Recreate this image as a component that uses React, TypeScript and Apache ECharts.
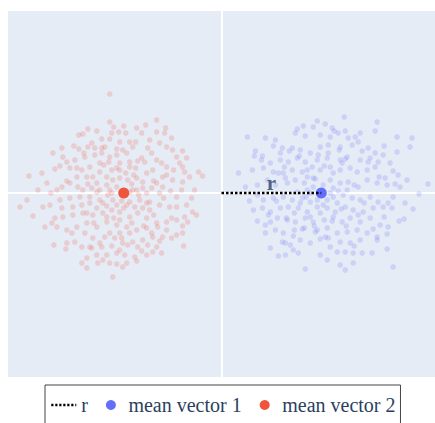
import React, { useEffect, useRef } from "react";
import * as echarts from "echarts";

// Samples drawn around mean vector 2 (red cloud)
const cloud2: [number, number][] = [
  [-1.12, 0.99], [-0.65, 0.73], [-1.12, 0.71], [-0.76, 0.68], [-0.98, 0.67], [-1.08, 0.66],
  [-1.43, 0.58], [-1.39, 0.59], [-1.34, 0.64], [-1.25, 0.62], [-1.03, 0.61], [-0.96, 0.6],
  [-0.65, 0.61], [-0.56, 0.65], [-0.57, 0.6], [-0.8, 0.6], [-1.2, 0.54], [-1.12, 0.54],
  [-1.02, 0.51], [-0.92, 0.51], [-0.86, 0.51], [-0.72, 0.53], [-0.62, 0.5], [-1.48, 0.47],
  [-1.43, 0.44], [-1.34, 0.46], [-1.27, 0.45], [-1.17, 0.46], [-1.05, 0.44], [-0.99, 0.43],
  [-0.89, 0.46], [-0.74, 0.45], [-0.55, 0.46], [-0.49, 0.43], [-0.45, 0.36], [-0.39, 0.42],
  [-1.69, 0.4], [-1.59, 0.36], [-1.55, 0.31], [-1.47, 0.33], [-1.37, 0.36], [-1.27, 0.38],
  [-1.2, 0.4], [-1.13, 0.31], [-1.02, 0.3], [-0.92, 0.31], [-0.84, 0.32], [-0.77, 0.31],
  [-0.65, 0.33], [-0.55, 0.26], [-0.48, 0.23], [-0.39, 0.26], [-0.37, 0.21], [-0.23, 0.21],
  [-0.19, 0.17], [-1.8, 0.2], [-1.93, 0.17], [-1.67, 0.24], [-1.62, 0.27], [-1.52, 0.25],
  [-1.4, 0.23], [-1.32, 0.26], [-1.22, 0.21], [-1.1, 0.23], [-0.96, 0.2], [-0.86, 0.25],
  [-0.75, 0.2], [-0.69, 0.23], [-0.59, 0.16], [-0.49, 0.13], [-0.39, 0.11], [-0.32, 0.16],
  [-0.27, 0.03], [-0.4, 0.03], [-0.51, 0.02], [-0.45, -0.04], [-0.62, 0.0], [-0.7, 0.05],
  [-0.79, 0.05], [-0.89, 0.03], [-1.05, 0.06], [-1.15, 0.08], [-1.25, 0.1], [-1.34, 0.09],
  [-1.44, 0.06], [-1.52, 0.1], [-1.6, 0.06], [-1.65, 0.03], [-1.71, 0.0], [-1.84, 0.03],
  [-1.95, -0.07], [-2.02, -0.14], [-1.89, -0.23], [-1.79, -0.14], [-1.72, -0.12], [-1.62, -0.07],
  [-1.52, -0.05], [-1.42, -0.04], [-1.32, -0.04], [-1.22, -0.07], [-1.14, -0.02], [-1.05, -0.12],
  [-0.92, -0.09], [-0.82, -0.07], [-0.72, -0.09], [-0.62, -0.12], [-0.52, -0.14], [-0.45, -0.14],
  [-0.35, -0.12], [-0.29, -0.19], [-0.25, -0.22], [-0.37, -0.24], [-0.34, -0.29], [-0.45, -0.27],
  [-0.55, -0.29], [-0.65, -0.3], [-0.75, -0.25], [-0.84, -0.2], [-0.92, -0.24], [-1.02, -0.19],
  [-1.1, -0.17], [-1.19, -0.2], [-1.29, -0.22], [-1.39, -0.2], [-1.49, -0.22], [-1.59, -0.24],
  [-1.67, -0.25], [-1.77, -0.34], [-1.65, -0.34], [-1.55, -0.37], [-1.45, -0.34], [-1.35, -0.3],
  [-1.25, -0.34], [-1.15, -0.29], [-1.05, -0.32], [-0.95, -0.34], [-0.85, -0.37], [-0.75, -0.35],
  [-0.64, -0.34], [-0.55, -0.37], [-0.45, -0.42], [-0.39, -0.33], [-0.39, -0.4], [-0.38, -0.53],
  [-0.5, -0.45], [-0.59, -0.44], [-0.69, -0.44], [-0.79, -0.47], [-0.89, -0.49], [-0.99, -0.5],
  [-1.07, -0.45], [-1.17, -0.44], [-1.29, -0.45], [-1.37, -0.4], [-1.47, -0.49], [-1.55, -0.5],
  [-1.68, -0.52], [-1.56, -0.56], [-1.4, -0.54], [-1.32, -0.54], [-1.2, -0.54], [-1.1, -0.53],
  [-1.02, -0.57], [-0.94, -0.52], [-0.84, -0.54], [-0.74, -0.52], [-0.65, -0.54], [-0.69, -0.59],
  [-0.75, -0.62], [-0.87, -0.64], [-0.97, -0.62], [-1.05, -0.6], [-1.15, -0.62], [-1.25, -0.62],
  [-1.35, -0.65], [-1.4, -0.7], [-1.24, -0.7], [-1.12, -0.7], [-1.05, -0.71], [-0.95, -0.7],
  [-0.85, -0.68], [-1.35, -0.75], [-1.09, -0.84], [-0.99, -0.74], [-1.19, -0.67],
  [-1.15, 0.16], [-1.09, 0.13], [-1.02, 0.15], [-0.94, 0.13], [-0.85, 0.15], [-0.79, 0.11],
  [-1.22, 0.03], [-1.12, 0.03], [-0.85, 0.03], [-0.75, 0.0], [-1.19, -0.1], [-1.09, -0.07],
  [-0.95, -0.12], [-0.87, -0.14], [-0.79, -0.15], [-1.25, -0.15], [-1.02, -0.27], [-1.15, -0.24],
  [-1.25, 0.01], [-0.92, 0.01], [-0.72, -0.17], [-1.02, 0.23], [-0.92, 0.26], [-1.12, 0.36],
  [-1.35, 0.16], [-1.29, 0.16], [-1.32, -0.1], [-0.65, 0.1], [-0.59, 0.06], [-1.45, 0.16],
  [-1.49, -0.14], [-1.39, 0.03], [-1.02, -0.4], [-0.92, -0.4], [-1.12, -0.4], [-1.22, -0.5],
  [-1.05, 0.25], [-0.88, 0.18], [-1.18, 0.28], [-0.8, 0.35], [-1.3, 0.05], [-0.68, 0.12],
  [-0.58, -0.05], [-1.4, -0.12], [-1.08, -0.25], [-0.9, -0.3], [-0.7, -0.4], [-1.28, -0.3],
  [-1.2, 0.45], [-0.95, 0.4], [-0.7, 0.4], [-1.45, 0.25], [-1.55, 0.12], [-1.6, -0.15],
  [-0.5, -0.25], [-0.42, 0.3], [-0.6, 0.3], [-0.83, -0.02], [-1.0, -0.08], [-1.1, 0.0],
  [-0.9, 0.09], [-1.15, -0.13], [-0.78, -0.33], [-1.0, -0.45], [-1.3, -0.55], [-0.8, -0.58],
  [-0.6, -0.6], [-1.5, -0.4], [-1.75, 0.1], [-1.6, 0.45], [-0.3, -0.05], [-0.35, 0.35],
  [-1.7, -0.3], [-1.1, 0.6], [-0.85, 0.65], [-1.3, 0.5], [-0.5, 0.55], [-0.75, -0.1],
  [-0.68, -0.22], [-1.35, -0.2], [-1.22, 0.3], [-0.55, 0.18], [-0.98, -0.15], [-1.05, 0.38],
  [-1.38, 0.4], [-0.62, -0.48],
];

// Samples drawn around mean vector 1 (blue cloud)
const cloud1: [number, number][] = [
  [1.23, 0.76], [0.96, 0.72], [1.56, 0.71], [1.04, 0.69], [0.76, 0.64], [0.92, 0.66],
  [1.11, 0.65], [1.24, 0.62], [1.54, 0.62], [0.26, 0.56], [0.44, 0.55], [0.54, 0.53],
  [0.74, 0.6], [0.84, 0.57], [0.99, 0.58], [1.09, 0.56], [1.17, 0.6], [1.34, 0.56],
  [1.39, 0.6], [1.76, 0.56], [1.91, 0.55], [0.34, 0.42], [0.59, 0.4], [0.61, 0.45],
  [0.71, 0.45], [0.79, 0.43], [0.89, 0.4], [0.99, 0.46], [1.07, 0.48], [1.19, 0.46],
  [1.31, 0.48], [1.37, 0.51], [1.47, 0.45], [1.54, 0.4], [1.62, 0.38], [1.76, 0.41],
  [1.89, 0.46], [0.41, 0.37], [0.49, 0.3], [0.59, 0.33], [0.67, 0.31], [0.76, 0.35],
  [0.84, 0.31], [0.96, 0.33], [1.06, 0.35], [1.19, 0.33], [1.26, 0.36], [1.39, 0.33],
  [1.49, 0.35], [1.57, 0.31], [1.69, 0.3], [0.17, 0.2], [0.31, 0.23], [0.42, 0.25],
  [0.52, 0.21], [0.62, 0.2], [0.71, 0.23], [0.81, 0.21], [0.91, 0.26], [0.99, 0.23],
  [1.09, 0.26], [1.19, 0.23], [1.29, 0.25], [1.36, 0.21], [1.46, 0.23], [1.54, 0.26],
  [1.64, 0.15], [1.77, 0.18], [1.86, 0.13], [2.07, 0.09], [0.24, 0.06], [0.36, 0.08],
  [0.46, 0.13], [0.54, 0.08], [0.64, 0.15], [0.74, 0.13], [0.83, 0.1], [0.92, 0.15],
  [1.09, 0.13], [1.19, 0.1], [1.27, 0.11], [1.37, 0.06], [1.46, 0.13], [1.56, 0.1],
  [1.66, 0.08], [1.74, 0.09], [1.79, 0.06], [1.98, -0.01], [0.36, -0.02], [0.42, -0.07],
  [0.52, -0.05], [0.62, -0.04], [0.71, -0.07], [0.81, -0.05], [0.89, -0.09], [1.12, -0.04],
  [1.22, -0.02], [1.31, -0.05], [1.39, -0.07], [1.49, -0.04], [1.57, -0.09], [1.67, -0.1],
  [1.72, -0.04], [1.84, -0.1], [1.92, -0.16], [0.32, -0.17], [0.41, -0.15], [0.49, -0.19],
  [0.59, -0.15], [0.67, -0.14], [0.77, -0.15], [0.86, -0.19], [0.96, -0.14], [1.06, -0.15],
  [1.14, -0.19], [1.24, -0.14], [1.32, -0.17], [1.42, -0.19], [1.52, -0.15], [1.62, -0.14],
  [1.71, -0.15], [1.83, -0.26], [0.36, -0.28], [0.44, -0.32], [0.49, -0.29], [0.56, -0.25],
  [0.66, -0.27], [0.74, -0.29], [0.84, -0.25], [0.92, -0.29], [1.03, -0.27], [1.12, -0.24],
  [1.21, -0.29], [1.29, -0.25], [1.39, -0.29], [1.49, -0.25], [1.59, -0.32], [1.67, -0.34],
  [0.44, -0.4], [0.54, -0.37], [0.62, -0.4], [0.73, -0.37], [0.83, -0.35], [0.94, -0.39],
  [1.06, -0.35], [1.16, -0.4], [1.26, -0.39], [1.36, -0.37], [1.46, -0.4], [1.56, -0.44],
  [1.66, -0.41], [0.49, -0.55], [0.61, -0.49], [0.69, -0.52], [0.79, -0.47], [0.89, -0.5],
  [0.99, -0.46], [1.07, -0.45], [1.19, -0.49], [1.29, -0.5], [1.39, -0.47], [1.56, -0.47],
  [0.64, -0.62], [0.72, -0.57], [0.99, -0.62], [1.09, -0.54], [1.16, -0.59], [1.24, -0.59],
  [1.32, -0.6], [1.41, -0.6], [1.51, -0.6], [1.66, -0.56], [0.84, -0.76], [1.06, -0.67],
  [1.19, -0.72], [1.24, -0.77], [1.32, -0.7], [1.72, -0.74],
  [0.92, 0.06], [1.02, 0.08], [1.12, 0.05], [0.86, 0.03], [0.96, -0.07], [1.06, -0.07],
  [1.16, -0.1], [0.79, -0.1], [0.89, 0.0], [1.09, 0.0], [0.86, 0.23], [1.12, 0.2],
  [0.76, 0.01], [1.26, 0.03], [0.99, -0.2], [0.89, -0.24],
  [1.03, 0.27], [0.86, 0.16], [1.21, 0.3], [0.78, 0.37], [1.33, 0.08], [0.66, 0.1],
  [0.55, -0.08], [1.43, -0.1], [1.11, -0.28], [0.93, -0.33], [0.72, -0.43], [1.25, -0.33],
  [1.18, 0.43], [0.97, 0.38], [0.68, 0.42], [1.47, 0.31], [1.58, 0.16], [1.63, -0.24],
  [0.47, -0.22], [0.4, 0.33], [0.63, 0.26], [0.85, -0.04], [1.02, -0.12], [1.17, 0.02],
  [0.94, 0.14], [1.2, -0.16], [0.81, -0.36], [1.04, -0.44], [1.33, -0.53], [0.77, -0.6],
  [0.57, -0.63], [1.52, -0.36], [1.72, 0.22], [1.63, 0.47], [0.28, -0.08], [0.33, 0.37],
  [1.78, -0.28], [1.13, 0.62], [0.82, 0.67], [1.27, 0.55], [0.52, 0.47], [0.73, -0.2],
  [0.65, -0.25], [1.37, -0.22], [1.24, 0.34], [0.57, 0.2], [0.96, -0.37], [1.07, 0.4],
  [1.41, 0.42], [0.64, -0.5],
];

const mean1: [number, number] = [1.0, 0.0];
const mean2: [number, number] = [-0.98, 0.0];
const origin: [number, number] = [0, 0];
const legendNames = ["r", "mean vector 1", "mean vector 2"];

const BLUE = "#636efa";
const RED = "#EF553B";
const INK = "#2a3f5f";
const SERIF = "'Liberation Serif', 'Times New Roman', serif";

export default function App() {
  const ref = useRef<HTMLDivElement>(null);

  useEffect(() => {
    document.body.style.margin = "0";
    if (!ref.current) return;
    const chart = echarts.init(ref.current, undefined, { renderer: "svg" });
    chart.setOption({
      animation: false,
      grid: {
        left: 8,
        top: 11,
        right: -1,
        bottom: 46,
        show: true,
        backgroundColor: "#E5ECF6",
        borderWidth: 0,
      },
      xAxis: {
        type: "value",
        min: -2.14,
        max: 2.14,
        axisLine: { show: true, onZero: true, lineStyle: { color: "#ffffff", width: 2 } },
        axisTick: { show: false },
        axisLabel: { show: false },
        splitLine: { show: false },
      },
      yAxis: {
        type: "value",
        min: -1.84,
        max: 1.82,
        axisLine: { show: true, onZero: true, lineStyle: { color: "#ffffff", width: 2 } },
        axisTick: { show: false },
        axisLabel: { show: false },
        splitLine: { show: false },
      },
      legend: {
        data: [
          {
            name: legendNames[0],
            itemStyle: { color: "rgba(0,0,0,0)", borderWidth: 0 },
            lineStyle: { color: "#000000", width: 2.5, type: [2.2, 1.8] },
          },
          { name: legendNames[1], icon: "circle" },
          { name: legendNames[2], icon: "circle" },
        ],
        left: 45,
        top: 385,
        padding: [10, 5, 14, 5],
        itemWidth: 25,
        itemHeight: 10,
        itemGap: 18,
        borderColor: "#444444",
        borderWidth: 1,
        textStyle: { fontFamily: SERIF, fontSize: 20, color: INK },
      },
      series: [
        {
          type: "scatter",
          name: "cloud2",
          data: cloud2,
          symbolSize: 5.5,
          itemStyle: { color: RED, opacity: 0.2 },
          silent: true,
        },
        {
          type: "scatter",
          name: "cloud1",
          data: cloud1,
          symbolSize: 5.5,
          itemStyle: { color: BLUE, opacity: 0.2 },
          silent: true,
        },
        {
          type: "line",
          name: legendNames[0],
          data: [origin, mean1],
          symbol: "none",
          lineStyle: { color: "#000000", width: 2.5, type: [2.5, 2] },
          itemStyle: { color: "#000000" },
        },
        {
          type: "scatter",
          name: "label",
          data: [[(origin[0] + mean1[0]) / 2, 0]],
          symbolSize: 0,
          label: {
            show: true,
            formatter: "r",
            position: "top",
            distance: 0,
            fontFamily: SERIF,
            fontWeight: 700,
            fontSize: 21,
            color: INK,
          },
        },
        {
          type: "scatter",
          name: legendNames[1],
          data: [mean1],
          symbolSize: 11,
          itemStyle: { color: BLUE, opacity: 1 },
        },
        {
          type: "scatter",
          name: legendNames[2],
          data: [mean2],
          symbolSize: 11,
          itemStyle: { color: RED, opacity: 1 },
        },
      ],
    });
    return () => chart.dispose();
  }, []);

  return <div ref={ref} style={{ width: 435, height: 423 }} />;
}
